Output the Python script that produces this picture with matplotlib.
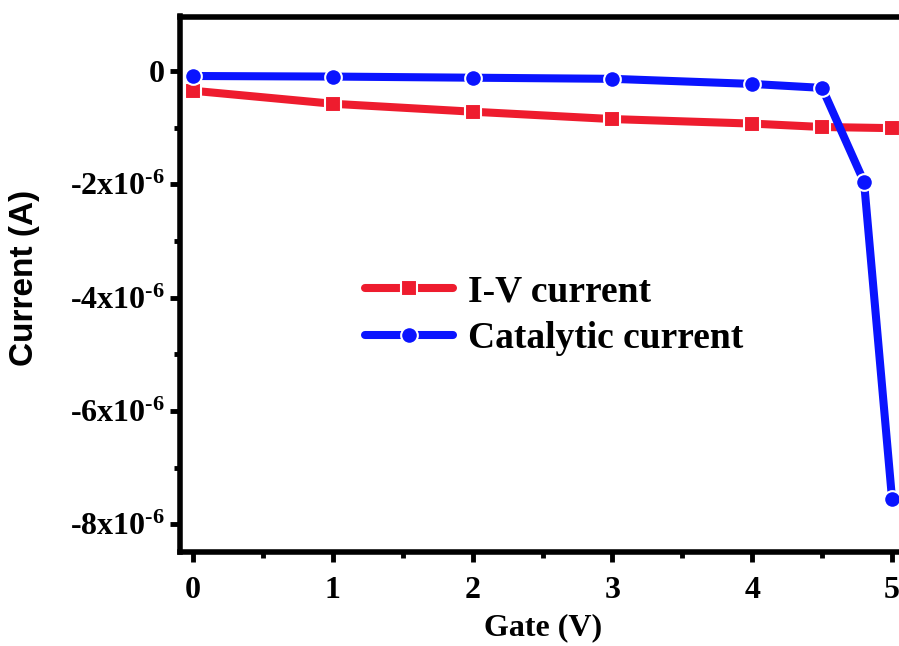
import numpy as np
import matplotlib
matplotlib.use("Agg")
import matplotlib.pyplot as plt
from matplotlib.ticker import MultipleLocator, FixedLocator

# Data
gate_iv = [0, 1, 2, 3, 4, 4.5, 5]
iv_current = [-0.35e-6, -0.58e-6, -0.72e-6, -0.85e-6, -0.93e-6, -0.99e-6, -1.01e-6]

gate_cat = [0, 1, 2, 3, 4, 4.5, 4.8, 5]
cat_current = [-0.09e-6, -0.10e-6, -0.12e-6, -0.14e-6, -0.23e-6, -0.30e-6, -1.96e-6, -7.55e-6]

ytick_vals = [0, -2e-6, -4e-6, -6e-6, -8e-6]
ytick_labels = ['0', '-2x10$^{\\text{-6}}$', '-4x10$^{\\text{-6}}$',
                '-6x10$^{\\text{-6}}$', '-8x10$^{\\text{-6}}$']

plt.rcParams['mathtext.fontset'] = 'custom'
plt.rcParams['mathtext.rm'] = 'Liberation Serif:bold'
plt.rcParams['mathtext.it'] = 'Liberation Serif:bold'
plt.rcParams['mathtext.bf'] = 'Liberation Serif:bold'

fig = plt.figure(figsize=(8.99, 6.46), dpi=100)
ax = fig.add_axes([180/899, 94/646, 726/899, 535.5/646])

ax.plot(gate_iv, iv_current, color='#ee1c2e', lw=5.8, marker='s', ms=11,
        mec='white', mew=1.5, solid_capstyle='round', label='I-V current')
ax.plot(gate_cat, cat_current, color='#0a14ff', lw=5.8, marker='o', ms=12,
        mec='white', mew=1.5, solid_capstyle='round', label='Catalytic current')

ax.set_xlim(-0.093, 5.1)
ax.set_ylim(-8.49e-6, 0.96e-6)

ax.xaxis.set_major_locator(MultipleLocator(1))
ax.xaxis.set_minor_locator(MultipleLocator(0.5))
ax.yaxis.set_major_locator(FixedLocator(ytick_vals))
ax.yaxis.set_minor_locator(MultipleLocator(1e-6))
ax.set_yticklabels(ytick_labels)

for sp in ax.spines.values():
    sp.set_linewidth(4)
ax.tick_params(which='major', direction='out', length=7, width=3.5)
ax.tick_params(axis='x', which='major', pad=10)
ax.tick_params(axis='y', which='major', pad=4)
ax.tick_params(which='minor', direction='out', length=4, width=3.5)
ax.tick_params(top=False, right=False)

for lab in ax.get_xticklabels() + ax.get_yticklabels():
    lab.set_fontfamily('Liberation Serif')
    lab.set_fontweight('bold')
    lab.set_fontsize(23)

ax.set_xlabel('Gate (V)', fontfamily='Liberation Serif', fontweight='bold',
              fontsize=23, labelpad=6)
ax.set_ylabel('Current (A)', fontfamily='Liberation Sans', fontweight='bold',
              fontsize=24)
ax.yaxis.set_label_coords(-0.193, 0.512)

leg = ax.legend(loc='upper left', bbox_to_anchor=(0.208, 0.581), frameon=False,
                prop={'family': 'Liberation Serif', 'weight': 'bold', 'size': 27},
                handlelength=2.35, handletextpad=0.4, labelspacing=0.3)

fig.savefig('out.png', dpi=100)
